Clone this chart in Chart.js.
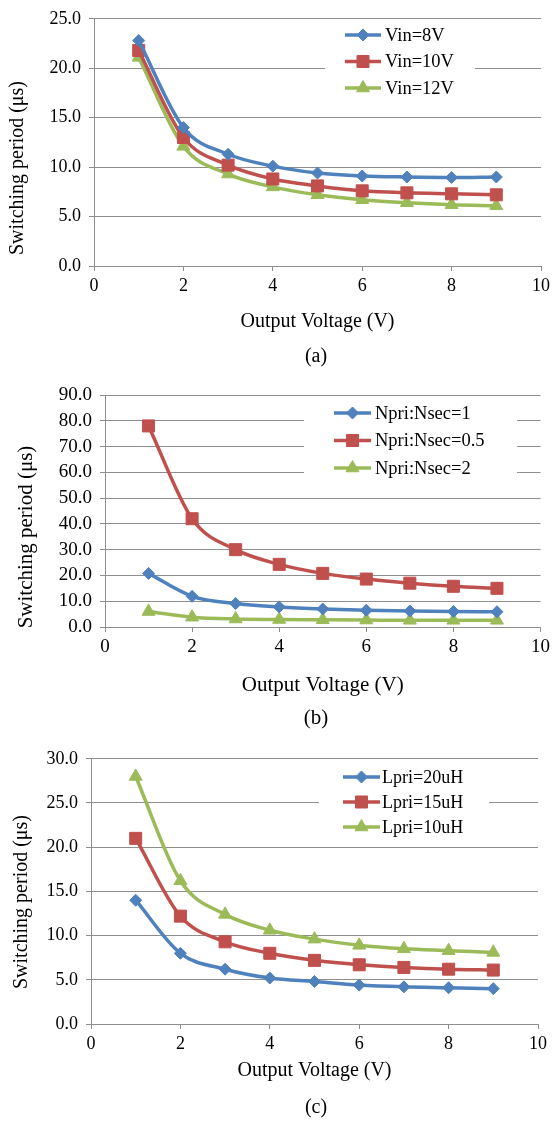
<!DOCTYPE html>
<html>
<head>
<meta charset="utf-8">
<script src="https://cdn.jsdelivr.net/npm/chart.js@4.4.1/dist/chart.umd.min.js"></script>
<style>
    html, body { margin: 0; padding: 0; background: #fff; }
    .panel { position: absolute; left: 0; width: 554px; }
    canvas { display: block; }
</style>
</head>
<body>
<div class="panel" style="top:0"><canvas id="chart-a" width="554" height="370"></canvas></div>
<div class="panel" style="top:370px"><canvas id="chart-b" width="554" height="370"></canvas></div>
<div class="panel" style="top:740px"><canvas id="chart-c" width="554" height="381"></canvas></div>
<script>
// output voltage (V) on the x axis, switching period (us) on the y axis
var outputVoltage = [1, 2, 3, 4, 5, 6, 7, 8, 9];

// (a) input voltage sweep
var vin8  = [22.8, 14.0, 11.3, 10.1, 9.4, 9.1, 9.0, 8.95, 9.0];
var vin10 = [21.8, 13.0, 10.2, 8.8, 8.1, 7.6, 7.4, 7.3, 7.2];
var vin12 = [21.1, 12.1, 9.3, 8.0, 7.2, 6.7, 6.4, 6.2, 6.1];
var labelsA = ["Vin=8V", "Vin=10V", "Vin=12V"];

// (b) turns ratio sweep
var ratio1  = [20.8, 11.9, 9.1, 7.8, 7.0, 6.5, 6.2, 6.0, 5.9];
var ratio05 = [78.0, 42.0, 30.0, 24.3, 20.8, 18.6, 17.0, 15.8, 15.0];
var ratio2  = [6.0, 3.8, 3.1, 2.9, 2.8, 2.7, 2.6, 2.6, 2.6];
var labelsB = ["Npri:Nsec=1", "Npri:Nsec=0.5", "Npri:Nsec=2"];

// (c) primary inductance sweep
var lpri20 = [14.0, 8.0, 6.2, 5.2, 4.8, 4.4, 4.2, 4.1, 4.0];
var lpri15 = [21.0, 12.2, 9.3, 8.0, 7.2, 6.7, 6.4, 6.2, 6.1];
var lpri10 = [28.0, 16.2, 12.4, 10.6, 9.6, 8.9, 8.5, 8.3, 8.1];
var labelsC = ["Lpri=20uH", "Lpri=15uH", "Lpri=10uH"];

var xTitle = "Output Voltage (V)";
var yTitle = "Switching period (\u03bcs)";

var serif = '"Liberation Serif", "Times New Roman", serif';
var gridGray = "#8e8e8e";

var seriesStyle = [
    { color: "#4f81bd", pointStyle: "rectRot", radius: 6 },
    { color: "#c0504d", pointStyle: "rect", radius: 8.5 },
    { color: "#9bbb59", pointStyle: "triangle", radius: 7.5 }
];

Chart.defaults.color = "#000";
Chart.defaults.font.family = serif;

function toPoints(ys) {
    return ys.map(function (y, i) { return { x: outputVoltage[i], y: y }; });
}

// titles, caption and the boxed legend
var panelText = {
    id: "panelText",
    afterDraw: function (chart, args, o) {
        var ctx = chart.ctx;
        var area = chart.chartArea;
        ctx.save();

        var lg = o.legend;
        ctx.fillStyle = "#fff";
        ctx.fillRect(lg.box[0], lg.box[1], lg.box[2], lg.box[3]);
        ctx.font = lg.size + "px " + serif;
        ctx.textBaseline = "middle";
        ctx.textAlign = "left";
        chart.data.datasets.forEach(function (ds, i) {
            var y = lg.top + i * lg.gap;
            ctx.strokeStyle = ds.borderColor;
            ctx.lineWidth = 3.5;
            ctx.beginPath();
            ctx.moveTo(lg.x0, y);
            ctx.lineTo(lg.x1, y);
            ctx.stroke();
            ctx.fillStyle = ds.borderColor;
            ctx.lineWidth = 1;
            Chart.helpers.drawPoint(ctx, {
                pointStyle: ds.pointStyle, radius: ds.pointRadius, borderWidth: 1, rotation: 0
            }, (lg.x0 + lg.x1) / 2, y);
            ctx.fillStyle = "#000";
            ctx.fillText(ds.label, lg.tx, y + 1);
        });

        ctx.fillStyle = "#000";
        ctx.textAlign = "center";
        ctx.font = o.titleSize + "px " + serif;
        ctx.fillText(xTitle, o.xTitleX || (area.left + area.right) / 2, o.xTitleY);
        ctx.fillText(o.caption, o.captionX, o.captionY);

        ctx.translate(o.yTitleX, o.yTitleY);
        ctx.rotate(-Math.PI / 2);
        ctx.fillText(yTitle, 0, 0);
        ctx.restore();
    }
};

function drawPanel(id, p) {
    var datasets = p.series.map(function (ys, i) {
        var s = seriesStyle[i];
        return {
            label: p.labels[i],
            data: toPoints(ys),
            borderColor: s.color,
            backgroundColor: s.color,
            borderWidth: 3.5,
            pointStyle: s.pointStyle,
            pointRadius: s.radius,
            pointBackgroundColor: s.color,
            pointBorderColor: s.color,
            pointBorderWidth: 1,
            cubicInterpolationMode: "monotone",
            clip: false
        };
    });

    return new Chart(document.getElementById(id), {
        type: "line",
        data: { datasets: datasets },
        plugins: [panelText],
        options: {
            responsive: false,
            animation: false,
            devicePixelRatio: 1,
            layout: { padding: { left: 0, right: p.right, top: p.top, bottom: 0 } },
            plugins: {
                legend: { display: false },
                tooltip: { enabled: false },
                panelText: p.text
            },
            scales: {
                x: {
                    type: "linear",
                    min: 0,
                    max: 10,
                    afterFit: function (s) { s.height = p.xHeight; },
                    ticks: { stepSize: 2, padding: 4, autoSkip: false, font: { size: p.tickSize } },
                    grid: { drawOnChartArea: false, drawTicks: true, tickLength: 5, color: gridGray },
                    border: { display: true, color: gridGray, width: 1 }
                },
                y: {
                    min: 0,
                    max: p.yMax,
                    afterFit: function (s) { s.width = p.yWidth; },
                    ticks: {
                        stepSize: p.yStep,
                        padding: 8,
                        autoSkip: false,
                        font: { size: p.tickSize },
                        callback: function (v) { return v.toFixed(1); }
                    },
                    grid: { drawTicks: true, tickLength: 5, color: gridGray },
                    border: { display: true, color: gridGray, width: 1 }
                }
            }
        }
    });
}

drawPanel("chart-a", {
    series: [vin8, vin10, vin12], labels: labelsA,
    yMax: 25, yStep: 5, yWidth: 94, xHeight: 104, top: 12, right: 13, tickSize: 18,
    text: {
        titleSize: 20, xTitleY: 322, yTitleX: 18, yTitleY: 168, caption: "(a)", captionX: 316, captionY: 357,
        legend: { box: [325, 20, 150, 80], top: 35, gap: 26.5, x0: 345, x1: 381, tx: 385, size: 18.5 }
    }
});

drawPanel("chart-b", {
    series: [ratio1, ratio05, ratio2], labels: labelsB,
    yMax: 90, yStep: 10, yWidth: 105, xHeight: 113, top: 25, right: 10, tickSize: 19,
    text: {
        titleSize: 21, xTitleY: 315, yTitleX: 26, yTitleY: 167, caption: "(b)", captionX: 316, captionY: 348,
        legend: { box: [304, 32, 213, 82], top: 43, gap: 27.5, x0: 334, x1: 371, tx: 375, size: 18.5 }
    }
});

drawPanel("chart-c", {
    series: [lpri20, lpri15, lpri10], labels: labelsC,
    yMax: 30, yStep: 5, yWidth: 91, xHeight: 97, top: 16, right: 16, tickSize: 18,
    text: {
        titleSize: 20, xTitleY: 331, yTitleX: 22, yTitleY: 162, caption: "(c)", captionX: 316, captionY: 368,
        legend: { box: [319, 24, 170, 76], top: 37, gap: 25, x0: 343, x1: 380, tx: 382, size: 18 }
    }
});
</script>
</body>
</html>
